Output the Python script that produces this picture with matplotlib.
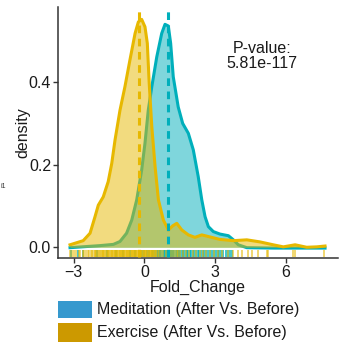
import matplotlib
matplotlib.use("Agg")
import matplotlib.pyplot as plt
from matplotlib.patches import Rectangle

plt.rcParams['font.family'] = ['Liberation Sans', 'DejaVu Sans']
plt.rcParams['lines.scale_dashes'] = False

# Kernel density estimates of fold change for each group
exercise_x = [-3.16, -2.60, -2.31, -2.10, -1.96, -1.75, -1.54, -1.39, -1.25, -1.04,
              -0.83, -0.62, -0.40, -0.26, -0.12, 0.02, 0.12, 0.20, 0.31, 0.45,
              0.59, 0.80, 1.01, 1.20, 1.37, 1.58, 1.86, 2.14, 2.43, 2.71, 3.20,
              3.77, 4.34, 4.90, 5.46, 5.89, 6.39, 6.88, 7.31, 7.66]
exercise_y = [0.006, 0.016, 0.034, 0.074, 0.102, 0.122, 0.159, 0.203, 0.260, 0.332,
              0.389, 0.453, 0.518, 0.546, 0.552, 0.534, 0.494, 0.397, 0.292, 0.195,
              0.115, 0.066, 0.042, 0.052, 0.058, 0.042, 0.030, 0.024, 0.030, 0.026, 0.019,
              0.016, 0.018, 0.013, 0.006, 0.001, 0.006, 0.000, 0.001, 0.003]

meditation_x = [-3.16, -1.89, -1.32, -1.04, -0.76, -0.54, -0.33, -0.12, 0.02, 0.16,
                0.31, 0.52, 0.73, 0.87, 1.01, 1.11, 1.22, 1.43, 1.62, 1.86, 2.07,
                2.28, 2.43, 2.57, 2.71, 2.92, 3.20, 3.56, 3.77, 3.98, 4.34, 5.50,
                6.50, 7.66]
meditation_y = [-0.001, 0.004, 0.007, 0.014, 0.034, 0.066, 0.115, 0.187, 0.252, 0.332,
                0.389, 0.461, 0.518, 0.540, 0.536, 0.494, 0.413, 0.340, 0.300, 0.276, 0.236,
                0.171, 0.115, 0.074, 0.050, 0.038, 0.032, 0.028, 0.018, 0.006, -0.001, -0.002,
                -0.002, -0.002]

# Group means
exercise_mean = -0.24
meditation_mean = 1.00

# Individual observations shown as a rug
exercise_obs = [-3.18, -3.08, -2.98, -2.90, -2.80, -2.72, -2.62, -2.55, -2.47, -2.40,
                -2.34, -2.28, -2.22, -2.17, -2.12, -2.08, -2.04, -2.00, -1.96, -1.92,
                -1.88, -1.85, -1.81, -1.77, -1.74, -1.70, -1.67, -1.63, -1.60, -1.56,
                -1.53, -1.50, -1.46, -1.43, -1.40, -1.36, -1.33, -1.30, -1.27, -1.24,
                -1.21, -1.18, -1.15, -1.12, -1.09, -1.06, -1.03, -1.00, -0.97, -0.94,
                -0.91, -0.88, -0.85, -0.82, -0.79, -0.76, -0.73, -0.70, -0.67, -0.64,
                -0.61, -0.58, -0.55, -0.52, -0.49, -0.46, -0.43, -0.40, -0.37, -0.34,
                -0.31, -0.28, -0.25, -0.22, -0.19, -0.16, -0.13, -0.10, -0.07, -0.04,
                -0.01, 0.02, 0.05, 0.08, 0.11, 0.14, 0.17, 0.20, 0.23, 0.26, 0.29,
                0.32, 0.35, 0.38, 0.41, 0.44, 0.47, 0.50, 0.56, 0.63, 0.72, 0.80,
                0.90, 1.02, 1.12, 1.22, 1.30, 1.36, 1.42, 1.50, 1.62, 1.75, 1.90,
                2.05, 2.20, 2.35, 2.48, 2.60, 2.78, 2.95, 3.10, 3.30, 3.55, 3.75,
                3.95, 4.15, 4.40, 4.55, 4.80, 5.20, 5.25, 6.30, 6.40, 7.60]
meditation_obs = [-3.10, -2.84, -2.60, -2.00, -1.60, -1.20, -0.90, -0.60, -0.40, -0.20,
                  -0.10, 0.00, 0.10, 0.20, 0.30, 0.38, 0.45, 0.52, 0.57, 0.62, 0.67,
                  0.72, 0.77, 0.82, 0.87, 0.92, 0.97, 1.02, 1.07, 1.12, 1.17, 1.22,
                  1.27, 1.32, 1.37, 1.42, 1.47, 1.52, 1.57, 1.62, 1.68, 1.74, 1.80,
                  1.86, 1.92, 1.98, 2.05, 2.12, 2.19, 2.26, 2.33, 2.40, 2.47, 2.54,
                  2.62, 2.70, 2.78, 2.86, 2.94, 3.02, 3.10, 3.18, 3.26, 3.35, 3.45,
                  3.55, 3.62, 3.70]

p_value_text = "P-value:\n5.81e-117"
legend_labels = ["Meditation (After Vs. Before)", "Exercise (After Vs. Before)"]
x_ticks = [-3, 0, 3, 6]
y_ticks = [0.0, 0.2, 0.4]

COL_MED = "#00AFBB"
COL_EX = "#E7B800"

W, H = 341, 347
fig = plt.figure(figsize=(W / 100, H / 100), dpi=100)
ax = fig.add_axes([58 / W, 1 - 258 / H, (338 - 58) / W, (258 - 7) / H])

ax.set_xlim(-3.67, 8.21)
ax.set_ylim(-0.026, 0.582)

# densities: meditation below, exercise on top
ax.fill_between(meditation_x, meditation_y, 0, color=COL_MED, alpha=0.5, lw=0, zorder=2)
ax.plot(meditation_x, meditation_y, color=COL_MED, lw=2.2, zorder=3,
        solid_joinstyle='round')
ax.fill_between(exercise_x, exercise_y, 0, color=COL_EX, alpha=0.5, lw=0, zorder=4)
ax.plot(exercise_x, exercise_y, color=COL_EX, lw=2.2, zorder=5,
        solid_joinstyle='round')

# rug along the bottom of the panel
trans = ax.get_xaxis_transform()
for v in meditation_obs:
    ax.plot([v, v], [0.004, 0.03], transform=trans, color=COL_MED, lw=1.3,
            alpha=0.8, zorder=6, solid_capstyle='butt')
for v in exercise_obs:
    ax.plot([v, v], [0.004, 0.03], transform=trans, color=COL_EX, lw=1.3,
            alpha=0.6, zorder=7, solid_capstyle='butt')

# mean lines
for m, c in [(exercise_mean, COL_EX), (meditation_mean, COL_MED)]:
    ax.plot([m, m], [0.004, 1], transform=trans, color=c, lw=2.2,
            dashes=(5.5, 4.0), zorder=8, clip_on=False)

ax.text(4.99, 0.463, p_value_text, ha='center', va='center', fontsize=11.5,
        color='#1a1a1a', linespacing=1.0)

for s in ['top', 'right']:
    ax.spines[s].set_visible(False)
for s in ['left', 'bottom']:
    ax.spines[s].set_color('#333333')
    ax.spines[s].set_linewidth(1.1)

ax.set_xticks(x_ticks)
ax.set_xticklabels(["\u22123", "0", "3", "6"])
ax.set_yticks(y_ticks)
ax.set_yticklabels(["0.0", "0.2", "0.4"])
ax.tick_params(axis='both', length=3.5, width=1, color='#333333',
               labelsize=11.5, labelcolor='#1a1a1a', pad=1.5)

fig.text(198 / W, 1 - 287 / H, "Fold_Change", ha='center', va='center',
         fontsize=11.5, color='#1a1a1a')
fig.text(23 / W, 1 - 133 / H, "density", ha='center', va='center',
         fontsize=11.5, color='#1a1a1a', rotation=90)
fig.text(6 / W, 1 - 186 / H, "i1", ha='right', va='center', fontsize=5,
         color='#333333')

# legend
leg_colors = ["#3699CE", "#CC9900"]
leg_rows = [(301, 318), (323, 342)]
for (y0, y1), c, lab in zip(leg_rows, leg_colors, legend_labels):
    fig.patches.append(Rectangle((58 / W, 1 - y1 / H), 34 / W, (y1 - y0) / H,
                                 transform=fig.transFigure, color=c, lw=0))
    fig.text(97 / W, 1 - ((y0 + y1) / 2) / H, lab, ha='left', va='center',
             fontsize=11.5, color='#1a1a1a')

fig.savefig("out.png", dpi=100)
